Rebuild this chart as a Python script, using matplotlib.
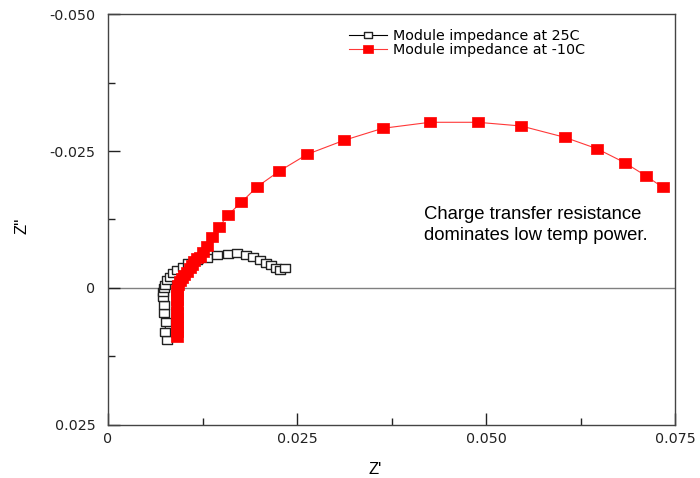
import matplotlib
matplotlib.use("Agg")
import matplotlib.pyplot as plt
from matplotlib.ticker import FixedLocator

# Nyquist data (ohm)
z_real_25c = [0.00776, 0.00754, 0.00763, 0.00745, 0.00745, 0.00731, 0.00724, 0.00741,
              0.00754, 0.00784, 0.00820, 0.00864, 0.00917, 0.00988, 0.01062, 0.01173,
              0.01306, 0.01448, 0.01583, 0.01702, 0.01825, 0.01918, 0.02007, 0.02090,
              0.02156, 0.02222, 0.02275, 0.02341]
z_imag_25c = [0.00949, 0.00797, 0.00615, 0.00456, 0.00310, 0.00159, 0.00068, 0.00000,
              -0.00055, -0.00146, -0.00206, -0.00268, -0.00328, -0.00389, -0.00451, -0.00511,
              -0.00553, -0.00602, -0.00626, -0.00630, -0.00602, -0.00571, -0.00520, -0.00465,
              -0.00411, -0.00365, -0.00328, -0.00356]

z_real_m10c = [0.00906, 0.00906, 0.00909, 0.00910, 0.00913, 0.00913, 0.00913, 0.00915,
               0.00917, 0.00919, 0.00926, 0.00952, 0.00979, 0.01005, 0.01045, 0.01078,
               0.01111, 0.01144, 0.01177, 0.01217, 0.01257, 0.01306, 0.01376, 0.01472,
               0.01583, 0.01763, 0.01975, 0.02262, 0.02636, 0.03122, 0.03634, 0.04259,
               0.04890, 0.05467, 0.06041, 0.06468, 0.06835, 0.07112, 0.07337]
z_imag_m10c = [0.00894, 0.00803, 0.00712, 0.00620, 0.00529, 0.00438, 0.00328, 0.00219,
               0.00128, 0.00036, -0.00055, -0.00128, -0.00182, -0.00237, -0.00292, -0.00365,
               -0.00420, -0.00484, -0.00547, -0.00571, -0.00662, -0.00772, -0.00925, -0.01113,
               -0.01327, -0.01564, -0.01849, -0.02130, -0.02440, -0.02695, -0.02914, -0.03024,
               -0.03024, -0.02956, -0.02750, -0.02542, -0.02287, -0.02049, -0.01838]

x_ticks = [0, 0.025, 0.050, 0.075]
x_tick_labels = ["0", "0.025", "0.050", "0.075"]
y_ticks = [-0.050, -0.025, 0, 0.025]
y_tick_labels = ["-0.050", "-0.025", "0", "0.025"]

plt.rcParams["font.family"] = ["Liberation Sans", "DejaVu Sans"]
wide = ["DejaVu Sans"]

# slightly wide rectangle marker, like the original
rect = [(-1.25, -1), (1.25, -1), (1.25, 1), (-1.25, 1), (-1.25, -1)]

fig = plt.figure(figsize=(7.0, 4.78), dpi=100)
ax = fig.add_axes([0.1543, 0.1109, 0.81, 0.8598])

ax.axhline(0, color="#808080", lw=1.0, zorder=1)

ax.plot(z_real_25c, z_imag_25c, color="black", lw=0.8, marker=rect, ms=7.4,
        mfc="white", mec="#222222", mew=1.0, label="Module impedance at 25C", zorder=2)
ax.plot(z_real_m10c, z_imag_m10c, color="#ff3838", lw=0.8, marker=rect, ms=8.2,
        mfc="#ff0000", mec="#ff0000", mew=0.5, label="Module impedance at -10C", zorder=3)

ax.set_xlim(0, 0.075)
ax.set_ylim(0.025, -0.050)

ax.xaxis.set_major_locator(FixedLocator(x_ticks))
ax.set_xticklabels(x_tick_labels, family=wide)
ax.xaxis.set_minor_locator(FixedLocator([0.0125, 0.0375, 0.0625]))
ax.yaxis.set_major_locator(FixedLocator(y_ticks))
ax.set_yticklabels(y_tick_labels, family=wide)
ax.yaxis.set_minor_locator(FixedLocator([-0.0375, -0.0125, 0.0125]))

ax.tick_params(which="both", direction="in", top=False, right=False,
               labelsize=10.3, colors="#222222")
ax.tick_params(which="major", length=8.5, width=1.0)
ax.tick_params(which="minor", length=5, width=1.0)
ax.tick_params(axis="y", which="major", pad=9)
ax.tick_params(axis="x", which="major", pad=5)

for s in ax.spines.values():
    s.set_color("#444444")
    s.set_linewidth(1.0)

ax.set_xlabel("Z'", fontsize=12, va="center", ha="center")
ax.xaxis.set_label_coords(0.471, -0.109)
ax.set_ylabel("Z''", fontsize=12, va="center", ha="center")
ax.yaxis.set_label_coords(-0.152, 0.484)

ax.text(0.0418, -0.0115, "Charge transfer resistance\ndominates low temp power.",
        fontsize=13.3, linespacing=1.33, va="center", ha="left")

ax.legend(loc="upper left", bbox_to_anchor=(0.489, 0.955), bbox_transform=fig.transFigure,
          frameon=False, prop={"family": wide, "size": 10.3}, handlelength=2.6,
          handletextpad=0.45, labelspacing=0.0, borderpad=0.0, markerscale=0.85)

fig.savefig("out.png", dpi=100)
